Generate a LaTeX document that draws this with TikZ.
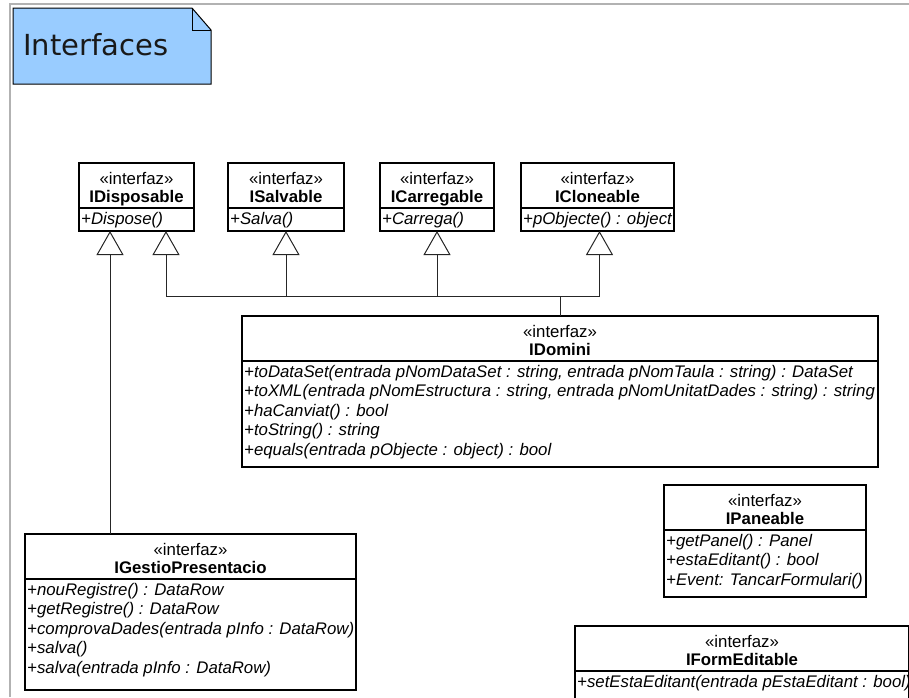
\documentclass[tikz,border=0pt]{standalone}
\usepackage{fontspec}
\setmainfont{Liberation Sans}
\newfontfamily\titlefont{DejaVu Sans}
\usetikzlibrary{arrows.meta}

% interface box: name, x, y, width, height, title
\newcommand\umlbox[6]{%
  \node[box, minimum width=#4pt, minimum height=#5pt] (#1) at (#2,#3) {};
  \draw[sepline] ([yshift=-45pt]#1.north west) -- ([yshift=-45pt]#1.north east);
  \node[stereo] (#1-st) at ([yshift=-21.5pt]#1.north) {«interfaz»};
  \node[cname] (#1-nm) at ([yshift=-39.5pt]#1.north) {#6};
}
% operation line: box name, row number, text
\newcommand\umlop[3]{%
  \node[opline] (#1-op#2) at ([xshift=2pt, yshift={-61pt-19.5pt*(#2-1)}]#1.north west) {#3};
}

\begin{document}
\begin{tikzpicture}[x=1pt,y=-1pt,
  box/.style={draw=black, line width=1.2pt, fill=white, anchor=north west, inner sep=0pt, outer sep=0pt},
  sepline/.style={draw=black, line width=1.2pt},
  stereo/.style={anchor=base, inner sep=0pt, font=\fontsize{16.8}{19.5}\selectfont},
  cname/.style={anchor=base, inner sep=0pt, font=\fontsize{16.8}{19.5}\selectfont\bfseries},
  opline/.style={anchor=base west, inner sep=0pt, font=\fontsize{16.8}{19.5}\selectfont\itshape},
  conn/.style={draw=black!85, line width=1pt},
  gen/.style={conn, -{Triangle[open, length=24pt, width=27pt]}},
  frame/.style={draw=black!30, line width=2pt},
  notebody/.style={fill=notefill, draw=black, line width=1pt},
]
\definecolor{notefill}{HTML}{99CCFF}
\useasboundingbox (0,0) rectangle (909,697);
\clip (0,0) rectangle (909,697);

% diagram frame
\draw[frame] (10,697) -- (10,4) -- (909,4);

% title note
\draw[notebody] (13,8) -- (192,8) -- (211,30) -- (211,84) -- (13,84) -- cycle;
\draw[line width=1pt] (192,8) -- (192,30) -- (211,30);
\node[anchor=base west, inner sep=0pt, text=black!90,
      font=\titlefont\fontsize{29}{32}\selectfont] (title) at (23,55) {Interfaces};

% base interfaces
\umlbox{disp}{79}{163}{115}{68}{IDisposable}
\umlop{disp}{1}{+Dispose()}
\umlbox{salv}{228}{163}{116}{68}{ISalvable}
\umlop{salv}{1}{+Salva()}
\umlbox{carr}{380}{163}{114}{68}{ICarregable}
\umlop{carr}{1}{+Carrega()}
\umlbox{clon}{521}{163}{153}{68}{ICloneable}
\umlop{clon}{1}{+pObjecte() : object}

% domain interface
\umlbox{dom}{242}{316}{636}{151}{IDomini}
\umlop{dom}{1}{+toDataSet(entrada pNomDataSet : string, entrada pNomTaula : string) : DataSet}
\umlop{dom}{2}{+toXML(entrada pNomEstructura : string, entrada pNomUnitatDades : string) : string}
\umlop{dom}{3}{+haCanviat() : bool}
\umlop{dom}{4}{+toString() : string}
\umlop{dom}{5}{+equals(entrada pObjecte : object) : bool}

% presentation interfaces
\umlbox{pan}{664}{485}{202}{112}{IPaneable}
\umlop{pan}{1}{+getPanel() : Panel}
\umlop{pan}{2}{+estaEditant() : bool}
\umlop{pan}{3}{+Event: TancarFormulari()}

\umlbox{gest}{25}{534}{331}{156}{IGestioPresentacio}
\umlop{gest}{1}{+nouRegistre() : DataRow}
\umlop{gest}{2}{+getRegistre() : DataRow}
\umlop{gest}{3}{+comprovaDades(entrada pInfo : DataRow)}
\umlop{gest}{4}{+salva()}
\umlop{gest}{5}{+salva(entrada pInfo : DataRow)}

\umlbox{form}{575}{626}{334}{110}{IFormEditable}
\umlop{form}{1}{+setEstaEditant(entrada pEstaEditant : bool)}

% generalizations
\coordinate (dispA) at ([xshift=31pt]disp.south west);
\coordinate (dispB) at ([xshift=87pt]disp.south west);
\coordinate (hub) at (560,296);
\draw[gen] (gest.north -| dispA) -- (dispA);
\draw[gen] (dom.north -| hub) -- (hub) -| (dispB);
\draw[gen] (dom.north -| hub) -- (hub) -| (salv.south);
\draw[gen] (dom.north -| hub) -- (hub) -| (carr.south);
\draw[gen] (dom.north -| hub) -- (hub) -| ([xshift=2pt]clon.south);
\end{tikzpicture}
\end{document}
